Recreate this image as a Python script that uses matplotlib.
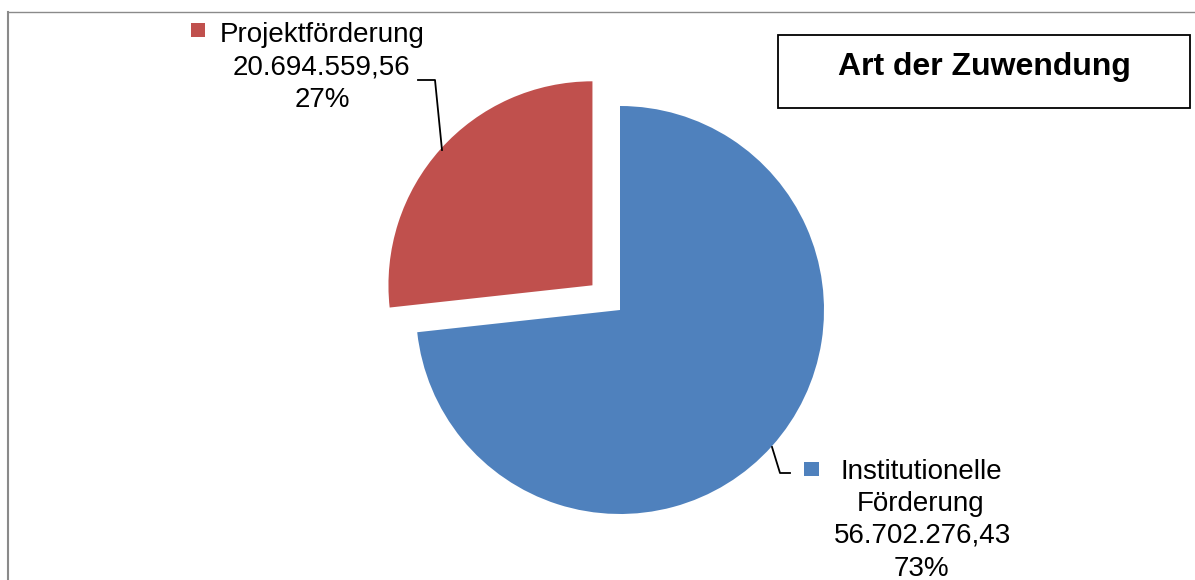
import matplotlib
matplotlib.use("Agg")
import matplotlib.pyplot as plt
from matplotlib.lines import Line2D
from matplotlib.patches import Rectangle

plt.rcParams['font.family'] = ['Liberation Sans', 'DejaVu Sans']

# ---- data ----
categories = ["Institutionelle\nFörderung", "Projektförderung"]
values = [56702276.43, 20694559.56]
colors = ["#4F81BD", "#C0504D"]
title = "Art der Zuwendung"

def de_fmt(v):
    s = f"{v:,.2f}"
    return s.replace(",", "X").replace(".", ",").replace("X", ".")

total = sum(values)
pcts = [f"{round(v / total * 100):d}%" for v in values]

W, H = 1195, 580
fig = plt.figure(figsize=(W / 100, H / 100), dpi=100)
ax = fig.add_axes([0, 0, 1, 1])

def Y(y):  # image y -> data y
    return H - y

wedges, _ = ax.pie(values, colors=colors, startangle=90, counterclock=False,
                   center=(620, Y(310)), radius=204, explode=[0, 37],
                   wedgeprops=dict(linewidth=0))
ax.set_xlim(0, W)
ax.set_ylim(0, H)
ax.set_aspect('auto')
ax.axis('off')

fs = 20
# Red label (Projektförderung)
ax.add_patch(Rectangle((191, Y(37)), 14, 14, color=colors[1], lw=0))
ax.text(322, Y(42), categories[1], ha='center', va='baseline', fontsize=fs)
ax.text(321, Y(75), de_fmt(values[1]), ha='center', va='baseline', fontsize=fs)
ax.text(322, Y(107), pcts[1], ha='center', va='baseline', fontsize=fs)
ax.add_line(Line2D([442, 435, 418], [Y(150), Y(80), Y(80)], color='black', lw=1.3))

# Blue label (Institutionelle Förderung)
ax.add_patch(Rectangle((804, Y(476)), 15, 14, color=colors[0], lw=0))
l1, l2 = categories[0].split("\n")
ax.text(921, Y(479), l1, ha='center', va='baseline', fontsize=fs)
ax.text(921, Y(511), l2, ha='center', va='baseline', fontsize=fs)
ax.text(922, Y(543), de_fmt(values[0]), ha='center', va='baseline', fontsize=fs)
ax.text(921, Y(576), pcts[0], ha='center', va='baseline', fontsize=fs)
ax.add_line(Line2D([772, 780, 790], [Y(447), Y(473), Y(473)], color='black', lw=1.3))

# Title box
ax.add_patch(Rectangle((778, Y(108)), 412, 73, fill=False, edgecolor='black', lw=1.3))
ax.text(984, Y(75), title, ha='center', va='baseline', fontsize=23, fontweight='bold')

# Chart border (top and left visible)
ax.add_line(Line2D([8, W], [Y(11.5), Y(11.5)], color='#8a8a8a', lw=1.0))
ax.add_line(Line2D([8, 8], [Y(11.5), 0], color='#8a8a8a', lw=1.5))

fig.savefig("out.png", dpi=100)
